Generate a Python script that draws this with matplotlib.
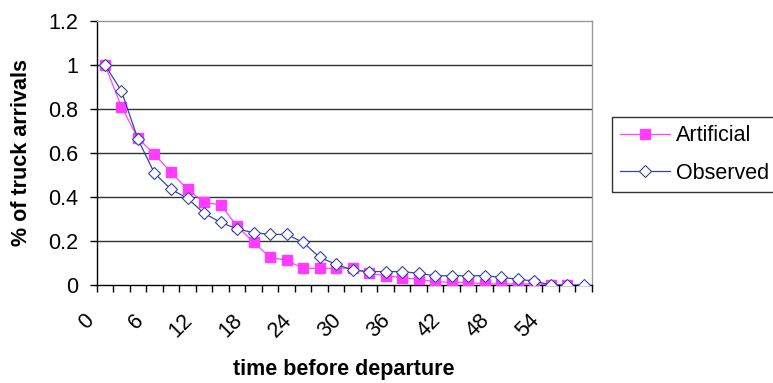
import matplotlib
matplotlib.use("Agg")
import matplotlib.pyplot as plt
from matplotlib.transforms import ScaledTranslation

plt.rcParams["font.family"] = ["Liberation Sans", "DejaVu Sans"]

# данные: категории 0, 2, 4, ... 58
times = list(range(0, 60, 2))
artificial = [1.0, 0.81, 0.667, 0.594, 0.512, 0.435, 0.376, 0.364, 0.268, 0.194,
              0.126, 0.112, 0.076, 0.076, 0.076, 0.076, 0.053, 0.042, 0.033, 0.026,
              0.015, 0.012, 0.012, 0.005, 0.005, 0.005, 0.005, 0.0, 0.0]
observed = [1.0, 0.882, 0.662, 0.508, 0.435, 0.394, 0.326, 0.285, 0.255, 0.238,
            0.23, 0.23, 0.194, 0.126, 0.094, 0.068, 0.061, 0.061, 0.061, 0.053,
            0.042, 0.042, 0.042, 0.042, 0.035, 0.026, 0.018, 0.0, 0.0, 0.0]
tick_labels = [str(t) for t in times[::3]]

fs = 15.5

fig = plt.figure(figsize=(7.73, 3.83), dpi=100)
ax = fig.add_axes([96.7 / 773, 1 - 285 / 383, (592 - 96.7) / 773, (285 - 21) / 383])

x_art = list(range(len(artificial)))
x_obs = list(range(len(observed)))

ax.plot(x_art, artificial, color="#FF44FF", linewidth=0.9, marker="s",
        markersize=7.4, markerfacecolor="#FF3CFF", markeredgecolor="#FF3CFF",
        label="Artificial", zorder=3)
ax.plot(x_obs, observed, color="#3344AA", linewidth=0.9, marker="D",
        markersize=6.4, markerfacecolor="white", markeredgecolor="#3344AA",
        markeredgewidth=0.8, label="Observed", zorder=4)

ax.set_xlim(-0.5, len(times) - 0.5)
ax.set_ylim(0, 1.2)

# сетка
for v in [0.2, 0.4, 0.6, 0.8, 1.0]:
    ax.axhline(v, color="#333333", linewidth=1.0, zorder=1)

ax.spines["left"].set_color("black")
ax.spines["bottom"].set_color("black")
ax.spines["top"].set_color("#999999")
ax.spines["right"].set_color("#999999")
for s in ax.spines.values():
    s.set_linewidth(1.0)

ax.set_yticks([0, 0.2, 0.4, 0.6, 0.8, 1.0, 1.2])
ax.set_yticklabels(["0", "0.2", "0.4", "0.6", "0.8", "1", "1.2"])
ax.tick_params(axis="y", direction="out", length=5.3, width=1, pad=8, labelsize=fs)

# тики между категориями, подписи по центрам
ax.set_xticks([i - 0.5 for i in range(len(times) + 1)])
ax.set_xticklabels([])
ax.tick_params(axis="x", which="major", direction="out", length=5, width=1)
ax.set_xticks(list(range(0, len(times), 3)), minor=True)
ax.set_xticklabels(tick_labels, minor=True, rotation=45, ha="right", fontsize=fs)
ax.tick_params(axis="x", which="minor", length=0, pad=18)
offset = ScaledTranslation(-7 / 100, 0, fig.dpi_scale_trans)
for lab in ax.get_xticklabels(minor=True):
    lab.set_transform(lab.get_transform() + offset)

fig.text(22 / 773, 1 - 153 / 383, "% of truck arrivals", rotation=90,
         ha="center", va="center", fontsize=fs, fontweight="bold")
fig.text(344 / 773, 1 - 369 / 383, "time before departure",
         ha="center", va="center", fontsize=fs, fontweight="bold")

leg = fig.legend(loc="upper left", bbox_to_anchor=(612 / 773, 1 - 117 / 383),
                 fontsize=fs, frameon=True, fancybox=False, handlelength=2.3,
                 handletextpad=0.3, labelspacing=0.78, borderpad=0.38,
                 borderaxespad=0)
leg.get_frame().set_edgecolor("black")
leg.get_frame().set_linewidth(1.0)

plt.savefig("out.png", dpi=100)
plt.close()
